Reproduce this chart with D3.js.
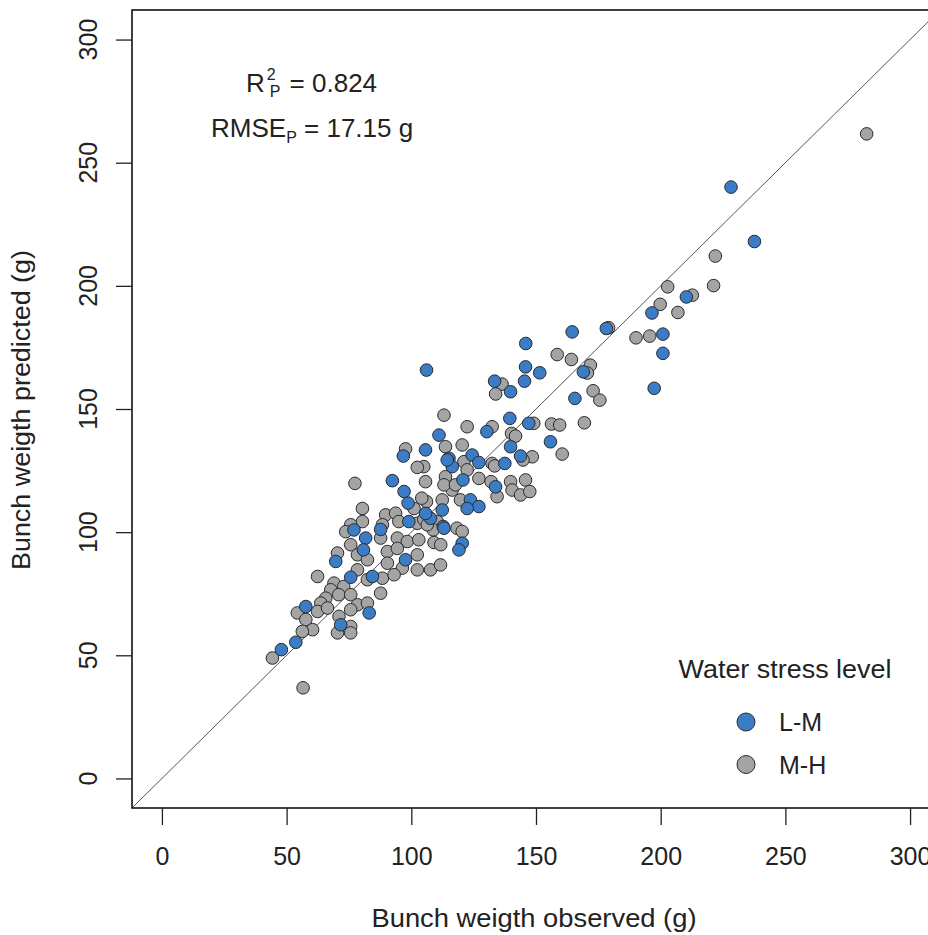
<!DOCTYPE html>
<html>
<head>
<meta charset="utf-8">
<script src="https://cdn.jsdelivr.net/npm/d3@7"></script>
<style>
  html, body { margin: 0; padding: 0; background: #fff; }
  svg { display: block; }
  text { font-family: "Liberation Sans", Arial, Helvetica, sans-serif; fill: #222; }
</style>
</head>
<body>
<svg id="chart" width="928" height="935"></svg>
<script>
// ---- data ----
const xTicks = [0, 50, 100, 150, 200, 250, 300];
const yTicks = [0, 50, 100, 150, 200, 250, 300];
const groups = ["L-M", "M-H"];

const lmObs = [228.2,237.6,210.3,196.5,178.2,200.9,200.9,197.4,169.0,164.5,145.9,145.8,151.5,145.4,133.4,139.8,165.6,106.1,130.3,139.5,147.1,155.8,111.1,105.7,139.8,143.8,115.1,124.4,127.1,116.4,137.5,120.7,133.8,123.7,127.1,122.4,112.4,92.4,97.1,98.7,99.0,107.7,112.8,77.0,81.7,87.7,80.8,69.7,97.7,75.7,84.4,83.1,57.7,71.7,53.7,47.9,96.8,114.4,105.7,113.1,120.4,119.1];
const lmPred = [240.1,218.0,195.5,189.0,182.7,180.4,172.6,158.4,165.1,181.3,176.6,167.1,164.7,161.3,161.3,157.0,154.3,165.8,140.8,146.2,144.2,136.7,139.4,133.4,134.7,130.9,130.0,131.3,128.3,126.6,127.9,121.2,118.4,113.1,110.4,109.6,109.0,120.9,116.5,111.8,104.3,105.6,102.3,100.9,97.6,101.1,92.8,88.1,88.8,81.7,82.0,67.2,69.8,62.4,55.3,52.3,130.9,129.3,107.6,101.6,95.5,92.8];

const mhObs = [282.6,221.9,221.2,202.8,212.7,199.8,206.9,179.1,190.1,195.6,171.8,170.6,172.9,175.6,169.4,158.5,164.2,136.4,133.8,113.1,122.4,132.4,149.1,156.2,159.5,160.5,140.2,141.8,113.7,120.4,148.5,144.8,121.1,122.4,132.4,133.4,105.0,105.7,113.7,127.1,132.0,139.8,145.8,140.4,143.8,147.5,134.4,116.4,112.4,119.7,106.1,77.4,113.1,104.2,101.1,80.4,80.4,89.7,93.7,95.0,102.4,105.0,110.4,108.8,75.7,73.7,88.4,87.7,94.4,98.4,103.0,109.1,111.8,75.7,70.4,78.4,82.4,90.4,94.4,102.4,90.4,96.4,102.4,107.7,111.7,62.4,78.4,82.4,88.4,93.1,69.0,72.9,87.7,67.7,65.7,70.9,75.7,78.4,82.4,63.7,54.3,62.4,57.7,66.4,71.0,75.7,75.7,70.4,75.7,60.4,56.3,44.3,56.6,97.7,102.4,117.7,106.4,118.3,120.4];
const mhPred = [261.7,212.1,200.1,199.6,196.2,192.5,189.2,183.0,178.9,179.6,167.8,164.6,157.4,153.6,144.4,172.1,170.1,160.1,156.1,147.5,142.8,142.8,144.2,143.9,143.5,131.7,140.1,139.0,134.7,135.4,130.6,129.3,128.6,125.3,127.9,126.9,126.6,120.5,122.5,121.8,120.5,120.5,121.2,117.1,115.1,116.5,114.4,117.1,113.1,113.1,112.4,119.8,119.2,113.8,109.6,109.6,104.3,107.0,107.7,104.3,103.6,105.2,104.3,100.9,103.0,100.2,103.0,97.6,97.6,96.2,96.9,95.8,94.9,94.9,91.5,90.8,88.8,92.1,93.4,90.8,87.4,85.4,84.7,84.7,86.7,82.0,84.7,80.7,81.3,82.7,79.3,77.9,75.2,76.6,73.2,74.6,74.6,70.5,71.2,71.2,67.2,67.8,64.5,69.2,65.8,68.5,61.7,59.1,59.1,60.4,59.7,48.9,36.8,133.8,126.3,119.2,103.0,101.6,100.3];

// ---- layout ----
const svg = d3.select("#chart");
const plot = { left: 132, right: 940, top: 10, bottom: 808 };
const x = d3.scaleLinear().domain([-12, 312]).range([plot.left, plot.right]);
const y = d3.scaleLinear().domain([-12, 312]).range([plot.bottom, plot.top]);
const color = d3.scaleOrdinal().domain(groups).range(["#3b7cc6", "#a4a4a4"]);
const FS = 25;

// 1:1 line
svg.append("line")
  .attr("x1", x(-12)).attr("y1", y(-12))
  .attr("x2", x(312)).attr("y2", y(312))
  .attr("stroke", "#555").attr("stroke-width", 1);

// points: M-H first, then L-M
const mh = mhObs.map((o, i) => ({ o, p: mhPred[i], g: "M-H" }));
const lm = lmObs.map((o, i) => ({ o, p: lmPred[i], g: "L-M" }));
svg.append("g").selectAll("circle").data(mh.concat(lm)).join("circle")
  .attr("cx", d => x(d.o)).attr("cy", d => y(d.p)).attr("r", 6.3)
  .attr("fill", d => color(d.g))
  .attr("stroke", "#2a2a2a").attr("stroke-width", 1);

// box
svg.append("rect")
  .attr("x", plot.left).attr("y", plot.top)
  .attr("width", plot.right - plot.left).attr("height", plot.bottom - plot.top)
  .attr("fill", "none").attr("stroke", "#111").attr("stroke-width", 1.6);

// x axis
const xAxis = svg.append("g")
  .attr("transform", `translate(0,${plot.bottom})`)
  .call(d3.axisBottom(x).tickValues(xTicks).tickSize(17).tickPadding(22).tickFormat(d3.format("d")));
xAxis.select(".domain").remove();
xAxis.selectAll(".tick line").attr("stroke", "#222").attr("stroke-width", 1.3);
xAxis.selectAll(".tick text").attr("font-size", FS).attr("fill", "#222")
  .style("font-family", '"Liberation Sans", Arial, sans-serif');

// y axis (ticks via d3 axis, labels rotated like R)
const yAxis = svg.append("g")
  .attr("transform", `translate(${plot.left},0)`)
  .call(d3.axisLeft(y).tickValues(yTicks).tickSize(16).tickFormat(""));
yAxis.select(".domain").remove();
yAxis.selectAll(".tick line").attr("stroke", "#222").attr("stroke-width", 1.3);
svg.append("g").selectAll("text").data(yTicks).join("text")
  .attr("transform", d => `translate(97,${y(d)}) rotate(-90)`)
  .attr("text-anchor", "middle").attr("font-size", FS)
  .text(d => d);

// axis titles
svg.append("text")
  .attr("x", 534).attr("y", 927).attr("text-anchor", "middle")
  .attr("font-size", FS).attr("textLength", 325).attr("lengthAdjust", "spacingAndGlyphs")
  .text("Bunch weigth observed (g)");
svg.append("text")
  .attr("transform", "translate(30,410) rotate(-90)")
  .attr("text-anchor", "middle").attr("font-size", FS)
  .attr("textLength", 320).attr("lengthAdjust", "spacingAndGlyphs")
  .text("Bunch weigth predicted (g)");

// annotations
const a1 = svg.append("text").attr("x", 246).attr("y", 92).attr("font-size", 26);
a1.append("tspan").text("R");
a1.append("tspan").attr("font-size", 16).attr("dx", 2).attr("dy", -12).text("2");
a1.append("tspan").attr("font-size", 16).attr("dx", -6).attr("dy", 17).text("P");
a1.append("tspan").attr("dy", -5).attr("dx", 2).text(" = 0.824");

const a2 = svg.append("text").attr("x", 211).attr("y", 137).attr("font-size", 26);
a2.append("tspan").text("RMSE");
a2.append("tspan").attr("font-size", 16).attr("dy", 6).text("P");
a2.append("tspan").attr("dy", -6).text(" = 17.15 g");

// legend
svg.append("text").attr("x", 785).attr("y", 678).attr("text-anchor", "middle")
  .attr("font-size", FS).attr("textLength", 213).attr("lengthAdjust", "spacingAndGlyphs")
  .text("Water stress level");
const lg = svg.append("g").selectAll("g").data(groups).join("g")
  .attr("transform", (d, i) => `translate(746,${722 + i * 42.5})`);
lg.append("circle").attr("r", 9).attr("fill", d => color(d))
  .attr("stroke", "#2a2a2a").attr("stroke-width", 1);
lg.append("text").attr("x", 33).attr("y", 9).attr("font-size", FS).text(d => d);
</script>
</body>
</html>
